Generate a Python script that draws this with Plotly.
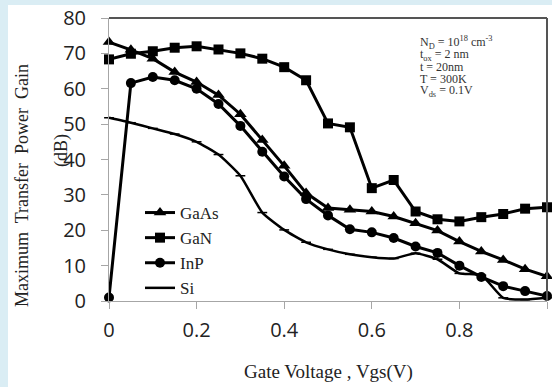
import plotly.graph_objects as go

# Gate voltage sweep (V)
vgs = [0.00, 0.05, 0.10, 0.15, 0.20, 0.25, 0.30, 0.35, 0.40, 0.45, 0.50,
       0.55, 0.60, 0.65, 0.70, 0.75, 0.80, 0.85, 0.90, 0.95, 1.00]

# Maximum transfer power gain (dB) for each channel material
gain_gaas = [73.2, 71.0, 68.5, 64.7, 61.9, 58.2, 52.8, 45.5, 38.2, 30.5, 26.3,
             25.8, 25.3, 23.9, 22.0, 19.9, 16.8, 14.0, 11.6, 9.0, 7.0]
gain_gan = [68.3, 69.9, 70.6, 71.6, 72.0, 71.1, 70.0, 68.5, 66.1, 62.4, 50.2,
            49.1, 31.9, 34.2, 25.3, 23.1, 22.5, 23.7, 24.6, 26.1, 26.5]
gain_inp = [1.0, 61.6, 63.3, 62.4, 60.0, 55.7, 49.5, 42.2, 35.2, 28.8, 24.2,
            20.3, 19.4, 17.8, 15.4, 13.6, 10.0, 6.8, 4.2, 2.8, 1.4]
gain_si = [51.8, 50.4, 48.8, 47.2, 45.0, 41.4, 35.4, 25.0, 20.1, 16.6, 14.6,
           13.2, 12.4, 12.0, 13.5, 11.8, 7.8, 7.3, 0.9, 0.4, 0.9]

x_ticks = [0, 0.2, 0.4, 0.6, 0.8, 1]
x_tick_text = ["0", "0.2", "0.4", "0.6", "0.8", "1"]
y_ticks = [0, 10, 20, 30, 40, 50, 60, 70, 80]

params = [
    "N<sub>D</sub> = 10<sup>18</sup> cm<sup>-3</sup>",
    "t<sub>ox</sub> = 2 nm",
    "t = 20nm",
    "T = 300K",
    "V<sub>ds</sub> = 0.1V",
]

W, H = 552, 387
ML, MR, MT, MB = 109, 5, 18, 86
PW, PH = W - ML - MR, H - MT - MB

SERIF = "Liberation Serif"
TICKF = "Open Sans"
INK = "black"


def px_x(px):
    return (px - ML) / PW


def px_y(py):
    return (H - MB - py) / PH


fig = go.Figure()
fig.add_trace(go.Scatter(x=vgs, y=gain_gaas, name="GaAs", mode="lines+markers",
                         line=dict(color=INK, width=3),
                         marker=dict(symbol="triangle-up", size=11, color=INK),
                         cliponaxis=False))
fig.add_trace(go.Scatter(x=vgs, y=gain_gan, name="GaN", mode="lines+markers",
                         line=dict(color=INK, width=3),
                         marker=dict(symbol="square", size=10, color=INK),
                         cliponaxis=False))
fig.add_trace(go.Scatter(x=vgs, y=gain_inp, name="InP", mode="lines+markers",
                         line=dict(color=INK, width=3),
                         marker=dict(symbol="circle", size=10, color=INK),
                         cliponaxis=False))
fig.add_trace(go.Scatter(x=vgs, y=gain_si, name="Si", mode="lines+markers",
                         line=dict(color=INK, width=2.5, shape="spline", smoothing=0.5),
                         marker=dict(symbol="line-ew", size=7,
                                     line=dict(color=INK, width=1.5)),
                         cliponaxis=False))

axis_common = dict(showgrid=False, zeroline=False, showline=True,
                   linecolor="#a6a6a6", linewidth=1, ticks="outside",
                   ticklen=7, tickcolor="#a6a6a6",
                   tickfont=dict(family=TICKF, size=20, color="#222"))
fig.update_xaxes(range=[0, 1], tickvals=x_ticks, ticktext=x_tick_text,
                 ticklabelstandoff=4, **axis_common)
fig.update_yaxes(range=[0, 80], tickvals=y_ticks, ticklabelstandoff=11, **axis_common)

shapes = [
    # white panel on light-blue page
    dict(type="rect", xref="paper", yref="paper", x0=px_x(8), x1=px_x(W + 2),
         y0=px_y(H + 2), y1=px_y(5), fillcolor="white", line=dict(width=0), layer="below"),
    # top and right frame
    dict(type="line", xref="paper", yref="paper", x0=0, x1=1, y0=1, y1=1,
         line=dict(color="#555", width=2)),
    dict(type="line", xref="paper", yref="paper", x0=1, x1=1, y0=0, y1=1,
         line=dict(color="#555", width=2)),
]

annotations = [
    dict(text="Gate Voltage , Vgs(V)", xref="paper", yref="paper",
         x=px_x(328), y=px_y(372), xanchor="center", yanchor="middle", showarrow=False,
         font=dict(family=SERIF, size=19, color="#222")),
    dict(text="Maximum  Transfer  Power  Gain", xref="paper", yref="paper",
         x=px_x(22), y=px_y(186), xanchor="center", yanchor="middle",
         textangle=-90, showarrow=False,
         font=dict(family=SERIF, size=18, color="#222")),
    dict(text="(dB)", xref="paper", yref="paper",
         x=px_x(61), y=px_y(151), xanchor="center", yanchor="middle",
         textangle=-90, showarrow=False,
         font=dict(family=SERIF, size=18, color="#222")),
]
param_y = [43, 55, 67, 79, 91]
for txt, py in zip(params, param_y):
    annotations.append(dict(text=txt, xref="paper", yref="paper",
                            x=px_x(418), y=px_y(py), xanchor="left", yanchor="middle",
                            showarrow=False,
                            font=dict(family=SERIF, size=12, color="#333")))

fig.update_layout(
    width=W, height=H,
    margin=dict(l=ML, r=MR, t=MT, b=MB),
    paper_bgcolor="#daedf4", plot_bgcolor="white",
    showlegend=True,
    legend=dict(x=px_x(140), y=px_y(195), xanchor="left", yanchor="top",
                bgcolor="rgba(0,0,0,0)", font=dict(family=SERIF, size=17, color="#222"),
                tracegroupgap=0),
    shapes=shapes, annotations=annotations,
)

fig.write_html("out.html")
